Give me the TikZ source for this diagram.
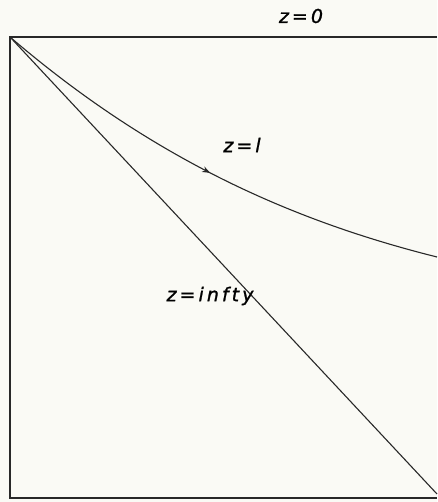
\documentclass[tikz,border=0pt]{standalone}
\usepackage{fontspec}
\newfontfamily\lblfont[LetterSpace=16,FakeBold=1.2]{DejaVu Sans}
\usetikzlibrary{arrows.meta,decorations.markings}
\definecolor{paper}{RGB}{250,250,245}
\definecolor{ink}{RGB}{40,40,40}

\begin{document}
\begin{tikzpicture}[
  x=1pt, y=-1pt,
  >=Stealth,
  frame/.style={draw=ink, line width=1.8pt},
  ray/.style={draw=ink, line width=1.1pt},
  lbl/.style={font=\lblfont\itshape\fontsize{19}{22}\selectfont, inner sep=0pt, text=black},
  midarrow/.style={postaction={decorate,
    decoration={markings, mark=at position 0.5 with {\arrow{Stealth[length=8pt,width=6pt]}}}}}
]
  \fill[paper] (0,0) rectangle (437,502);
  \useasboundingbox (0,0) rectangle (437,502);

  \coordinate (O) at (10,37);
  \coordinate (TR) at (437,37);
  \coordinate (BL) at (10,498);
  \coordinate (BR) at (437,498);
  \coordinate (E) at (437,257);
  \coordinate (F) at (437,494);

  \draw[frame] (TR) -- (O) -- (BL) -- (BR);

  \draw[ray, midarrow] (O) .. controls (149,156) and (287,219.5) .. (E);
  \draw[ray] (O) -- (F);

  \node[lbl] (zzero) at (301,16) {z=0};
  \node[lbl] (zell) at (242,145) {z=l};
  \node[lbl] (zinf) at (210,296) {z=infty};
\end{tikzpicture}
\end{document}
